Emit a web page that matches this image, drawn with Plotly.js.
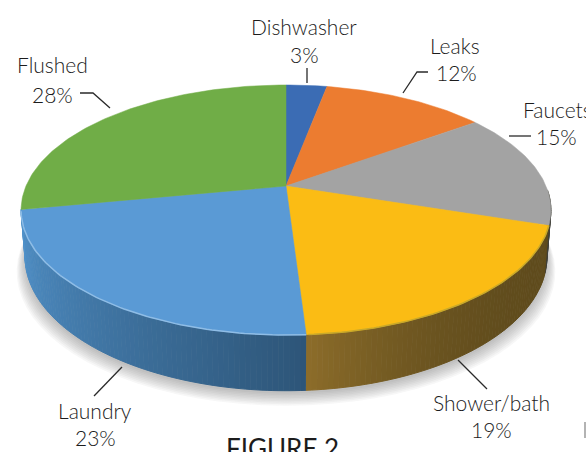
<!DOCTYPE html>
<html><head><meta charset="utf-8">
<script src="https://cdn.plot.ly/plotly-3.0.1.min.js"></script>
<style>html,body{margin:0;padding:0;background:#fff;overflow:hidden}#c{width:586px;height:452px}</style>
</head><body><div id="c"></div>
<script>
const categories = ["Dishwasher","Leaks","Faucets","Shower/bath","Laundry","Flushed"];
const shares = [3,12,15,19,23,28];
const topColors = ["#3b6cb4","#ec7c30","#a3a3a3","#fbbc14","#5a9ad5","#70ad47"];
const sideFrom = {Faucets:"#5a5a50","Shower/bath":"#8d6d2a",Laundry:"#5192ca"};
const sideTo = {Faucets:"#3e3e38","Shower/bath":"#5f4b1c",Laundry:"#2d5578"};
const labelX = [304,455,557,491,95,52];
const labelY = [26,45,109,402,410,64];
const pctX = [304,456,556,491,95,52];
const pctY = [54,72,136,429,437,94];
const leaders = [
 [[307,68],[307,83]],
 [[403,93],[417,72],[428,72]],
 [[509,136],[531,136]],
 [[458,360],[487,389]],
 [[122,367],[94,396]],
 [[80,93],[93,93],[110,108]]
];

// perspective projection of the unit disc onto the page
const CX=286,CY=186,RX=260,A=-84.7,C=0.192,H=45,BOT=0.985;
function proj(tDeg,bottom){
  const t=tDeg*Math.PI/180,u=Math.sin(t),v=Math.cos(t),d=1+C*v;
  const x=CX+(bottom?BOT:1)*RX*u/d;
  const y=(A*v+CY)/d+(bottom?H/d:0);
  return [x,y];
}
const hex=c=>[1,3,5].map(i=>parseInt(c.substr(i,2),16));
const mix=(a,b,f)=>{const p=hex(a),q=hex(b);return `rgb(${p.map((z,i)=>Math.round(z+(q[i]-z)*f)).join(",")})`;};
const poly=(name,pts,fill,line,lw)=>({type:"scatter",mode:"lines",name,hoverinfo:"skip",showlegend:false,
  x:pts.map(p=>p[0]),y:pts.map(p=>p[1]),fill:"toself",fillcolor:fill,line:{color:line||fill,width:lw===undefined?1:lw}});

const cum=[0];shares.forEach(s=>cum.push(cum[cum.length-1]+s));
const deg=i=>cum[i]*3.6;
const traces=[];

// soft shadow under the body
for(let k=0;k<9;k++){
  const pts=[];
  for(let a=0;a<=360;a+=4){const p=proj(a,true);pts.push([CX+(p[0]-CX)*(1+0.004*k),p[1]+3+k*1.5]);}
  traces.push(poly("shadow",pts,"rgba(90,90,90,0.05)","rgba(0,0,0,0)",0));
}
// side wall
categories.forEach((c,i)=>{
  if(!sideFrom[c])return;
  const a0=Math.max(deg(i),92),a1=deg(i+1);
  const n=Math.round(a1-a0);
  for(let k=0;k<n;k++){
    const s=a0+(a1-a0)*k/n,e=a0+(a1-a0)*(k+1)/n;
    const f=(k+0.5)/n;
    let col;
    if(c==="Laundry"){col=mix(sideFrom[c],sideTo[c],Math.pow(1-f,1.1));}
    else if(c==="Shower/bath"){col=mix(sideTo[c],sideFrom[c],Math.pow(f,3));}
    else col=mix(sideFrom[c],sideTo[c],f);
    traces.push(poly(c+" side",[proj(s,false),proj(e,false),proj(e,true),proj(s,true)],col));
  }
});
// top face
categories.forEach((c,i)=>{
  const pts=[[CX,CY]];
  for(let a=deg(i);a<deg(i+1);a+=1)pts.push(proj(a,false));
  pts.push(proj(deg(i+1),false));pts.push([CX,CY]);
  traces.push(poly(c,pts,topColors[i],topColors[i],0.5));
});
// bright bevel on the front rim
[[4,"#8fbde6"],[3,"#c9a92a"]].forEach(([i,col])=>{
  const pts=[];for(let a=deg(i);a<=deg(i+1);a+=1)pts.push(proj(a,false));
  traces.push({type:"scatter",mode:"lines",hoverinfo:"skip",showlegend:false,name:categories[i]+" rim",
    x:pts.map(p=>p[0]),y:pts.map(p=>p[1]),line:{color:col,width:1.5}});
});
// leader lines
leaders.forEach((l,i)=>traces.push({type:"scatter",mode:"lines",hoverinfo:"skip",showlegend:false,name:categories[i]+" leader",
  x:l.map(p=>p[0]),y:l.map(p=>p[1]),line:{color:"#2a2a2a",width:1.3}}));
// stray mark at the page edge in the scan
traces.push({type:"scatter",mode:"lines",hoverinfo:"skip",showlegend:false,name:"edge mark",
  x:[585,585],y:[422,438],line:{color:"#9a9a9a",width:1.5}});

const font={family:"Lato, 'Open Sans', sans-serif",size:21,color:"#1c1c1c",weight:300};
const ann=[];
categories.forEach((c,i)=>{
  ann.push({x:labelX[i],y:labelY[i],text:c,showarrow:false,font,xanchor:"center",yanchor:"middle"});
  ann.push({x:pctX[i],y:pctY[i],text:shares[i]+"%",showarrow:false,font,xanchor:"center",yanchor:"middle"});
});
ann.push({x:282,y:448,text:"FIGURE 2",showarrow:false,font:{family:font.family,size:26,color:"#1c1c1c"},xanchor:"center",yanchor:"middle"});

Plotly.newPlot("c",traces,{
  width:586,height:452,margin:{l:0,r:0,t:0,b:0},showlegend:false,
  paper_bgcolor:"#fff",plot_bgcolor:"#fff",
  xaxis:{range:[0,586],visible:false,fixedrange:true},
  yaxis:{range:[452,0],visible:false,fixedrange:true},
  annotations:ann
},{displayModeBar:false,staticPlot:true});
</script></body></html>
